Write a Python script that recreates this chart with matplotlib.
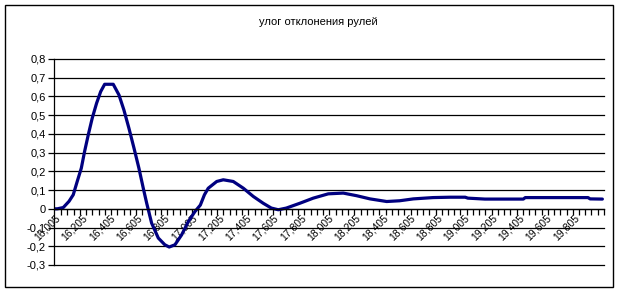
import numpy as np
import matplotlib
matplotlib.use("Agg")
import matplotlib.pyplot as plt
from matplotlib.patches import Rectangle
from matplotlib.ticker import FixedLocator, FuncFormatter

plt.rcParams["font.family"] = ["Liberation Sans", "DejaVu Sans"]

TITLE = "улог отклонения рулей"

# time (s) and rudder deflection
time = [16.005, 16.022, 16.066, 16.108, 16.139, 16.168, 16.198, 16.222,
        16.249, 16.278, 16.31, 16.34, 16.369, 16.432, 16.474, 16.51,
        16.547, 16.584, 16.62, 16.652, 16.677, 16.713, 16.762, 16.81,
        16.842, 16.884, 16.933, 16.982, 17.03, 17.07, 17.10, 17.128,
        17.19, 17.238, 17.311, 17.385, 17.458, 17.53, 17.59, 17.641,
        17.70, 17.80, 17.897, 18.007, 18.117, 18.215, 18.313, 18.435,
        18.53, 18.63, 18.775, 18.90, 19.01, 19.03, 19.155, 19.436, 19.45,
        19.91, 19.925, 20.015]
angle = [0.0, 0.0, 0.007, 0.04, 0.075, 0.146, 0.217, 0.306,
         0.395, 0.484, 0.564, 0.626, 0.665, 0.665, 0.608, 0.528,
         0.43, 0.324, 0.217, 0.11, 0.03, -0.076, -0.156, -0.192,
         -0.204, -0.192, -0.139, -0.068, -0.015, 0.02, 0.075, 0.11,
         0.146, 0.155, 0.146, 0.11, 0.066, 0.03, 0.004, -0.005,
         0.004, 0.03, 0.057, 0.08, 0.084, 0.07, 0.053, 0.039,
         0.043, 0.053, 0.06, 0.062, 0.062, 0.057, 0.052, 0.052, 0.06,
         0.06, 0.053, 0.052]

label_pos = [16.005 + 0.2 * k for k in range(20)]
y_ticks = [-0.3, -0.2, -0.1, 0.0, 0.1, 0.2, 0.3, 0.4, 0.5, 0.6, 0.7, 0.8]


def comma(v, _pos=None):
    s = f"{v:.3f}" if abs(v) > 5 else f"{v:.1f}"
    if s in ("0.0", "-0.0"):
        return "0"
    return s.replace(".", ",")


fig = plt.figure(figsize=(6.2, 2.92), dpi=100)
fig.patches.append(Rectangle((5 / 620, 1 - 287 / 292), 608 / 620, 282 / 292,
                             transform=fig.transFigure, fill=False,
                             edgecolor="black", linewidth=1.0))
ax = fig.add_axes([54 / 620, 1 - 265 / 292, 550 / 620, 206 / 292])

ax.plot(time, angle, color="#000080", linewidth=2.3,
        solid_joinstyle="round", solid_capstyle="round")

ax.set_xlim(15.998, 20.027)
ax.set_ylim(-0.3, 0.8)
ax.set_yticks(y_ticks)
ax.yaxis.set_major_formatter(FuncFormatter(comma))
for yv in y_ticks:
    ax.axhline(yv, color="black", linewidth=0.9, clip_on=False, zorder=0.5)

for side in ("top", "right"):
    ax.spines[side].set_visible(False)
ax.spines["left"].set_linewidth(0.9)
ax.spines["bottom"].set_position(("data", 0))
ax.spines["bottom"].set_linewidth(0.9)

ax.xaxis.set_major_locator(FixedLocator(label_pos))
ax.xaxis.set_minor_locator(FixedLocator(np.arange(16.005, 20.03, 0.0457)))
ax.xaxis.set_major_formatter(FuncFormatter(comma))
ax.tick_params(axis="x", which="major", length=0, pad=3, labelsize=7.5,
               labelrotation=45)
ax.tick_params(axis="x", which="minor", length=4, width=0.9, direction="out")
for lbl in ax.get_xticklabels():
    lbl.set_ha("right")
    lbl.set_va("top")
    lbl.set_rotation_mode("anchor")
ax.tick_params(axis="y", length=4, width=0.9, labelsize=8, pad=2)

fig.text(0.513, 1 - 22 / 292, TITLE, ha="center", va="center", fontsize=8)

fig.savefig("out.png", dpi=100)
